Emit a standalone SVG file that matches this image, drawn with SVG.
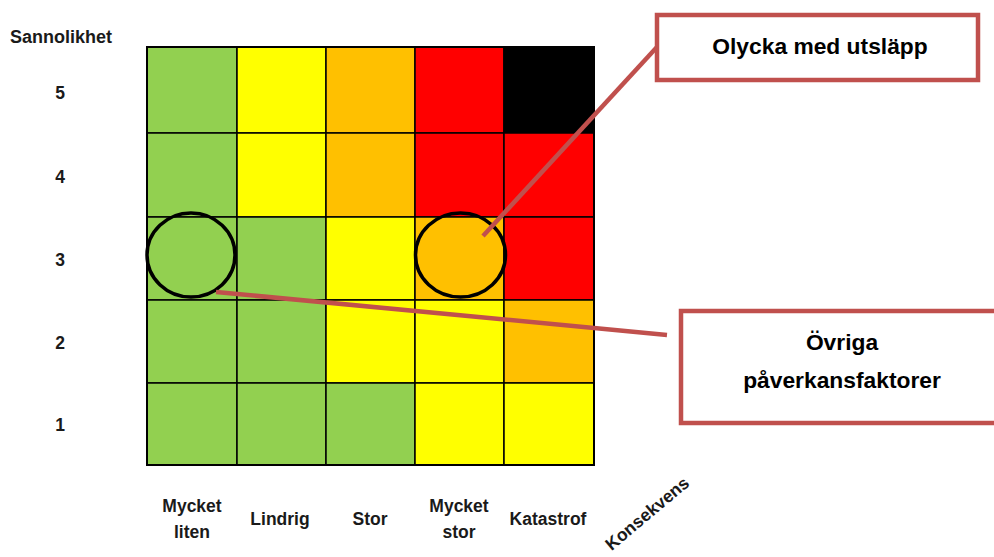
<svg xmlns="http://www.w3.org/2000/svg" width="994" height="557" viewBox="0 0 994 557">
<style>
text{font-family:"Liberation Sans",Arial,sans-serif;font-weight:bold;fill:#1a1a1a}
.lbl{font-size:17.5px;text-anchor:middle}
.box{font-size:22.8px;text-anchor:middle;fill:#000}
.c{stroke:#000;stroke-width:1.5}
.g{fill:#92D050}.y{fill:#FFFF00}.o{fill:#FFC000}.r{fill:#FF0000}.k{fill:#000}
.ring{fill:none;stroke:#000;stroke-width:3.5}
.conn{stroke:#C0504D;stroke-width:4.5;fill:none}
.frame{fill:#fff;stroke:#C0504D;stroke-width:4.5}
</style>
<rect width="994" height="557" fill="#fff"/>
<g id="axis-y">
<text x="10" y="43" style="font-size:18px">Sannolikhet</text>
<text class="lbl" x="60" y="99">5</text>
<text class="lbl" x="60" y="183">4</text>
<text class="lbl" x="60" y="266">3</text>
<text class="lbl" x="60" y="349">2</text>
<text class="lbl" x="60" y="431">1</text>
</g>
<g id="matrix">
<rect class="c g" x="147" y="47" width="90" height="86"/>
<rect class="c y" x="237" y="47" width="89" height="86"/>
<rect class="c o" x="326" y="47" width="89" height="86"/>
<rect class="c r" x="415" y="47" width="89" height="86"/>
<rect class="c k" x="504" y="47" width="90" height="86"/>
<rect class="c g" x="147" y="133" width="90" height="84"/>
<rect class="c y" x="237" y="133" width="89" height="84"/>
<rect class="c o" x="326" y="133" width="89" height="84"/>
<rect class="c r" x="415" y="133" width="89" height="84"/>
<rect class="c r" x="504" y="133" width="90" height="84"/>
<rect class="c g" x="147" y="217" width="90" height="83"/>
<rect class="c g" x="237" y="217" width="89" height="83"/>
<rect class="c y" x="326" y="217" width="89" height="83"/>
<rect class="c o" x="415" y="217" width="89" height="83"/>
<rect class="c r" x="504" y="217" width="90" height="83"/>
<rect class="c g" x="147" y="300" width="90" height="83"/>
<rect class="c g" x="237" y="300" width="89" height="83"/>
<rect class="c y" x="326" y="300" width="89" height="83"/>
<rect class="c y" x="415" y="300" width="89" height="83"/>
<rect class="c o" x="504" y="300" width="90" height="83"/>
<rect class="c g" x="147" y="383" width="90" height="82"/>
<rect class="c g" x="237" y="383" width="89" height="82"/>
<rect class="c g" x="326" y="383" width="89" height="82"/>
<rect class="c y" x="415" y="383" width="89" height="82"/>
<rect class="c y" x="504" y="383" width="90" height="82"/>
<rect x="147" y="47" width="447" height="418" fill="none" stroke="#000" stroke-width="2"/>
</g>
<g id="axis-x">
<text class="lbl" x="192" y="512">Mycket</text>
<text class="lbl" x="192" y="538">liten</text>
<text class="lbl" x="280" y="525">Lindrig</text>
<text class="lbl" x="370" y="525">Stor</text>
<text class="lbl" x="459" y="512">Mycket</text>
<text class="lbl" x="459" y="538">stor</text>
<text class="lbl" x="548" y="525">Katastrof</text>
<text class="lbl" x="651" y="518" transform="rotate(-40 651 518)">Konsekvens</text>
</g>
<g id="circle-left"><ellipse class="ring" cx="191" cy="255" rx="44" ry="42"/></g>
<g id="circle-right"><ellipse class="ring" cx="460.5" cy="255" rx="45" ry="42"/></g>
<g id="connectors">
<line class="conn" x1="483" y1="236" x2="657" y2="47"/>
<line class="conn" x1="216" y1="292" x2="667" y2="335"/>
</g>
<g id="box-olycka">
<rect class="frame" x="657" y="15" width="321" height="65"/>
<text class="box" x="820" y="54">Olycka med utsläpp</text>
</g>
<g id="box-ovriga">
<rect class="frame" x="681" y="311" width="330" height="112"/>
<text class="box" x="842" y="350">Övriga</text>
<text class="box" x="842" y="388">påverkansfaktorer</text>
</g>
</svg>
